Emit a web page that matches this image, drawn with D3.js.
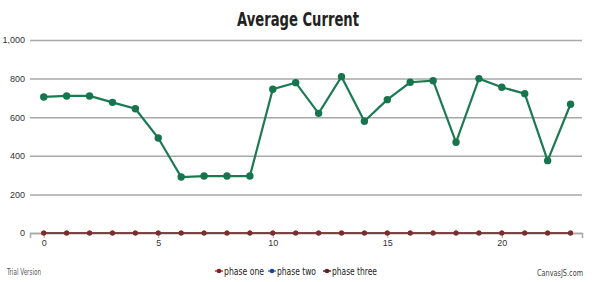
<!DOCTYPE html>
<html>
<head>
<meta charset="utf-8">
<script src="https://cdn.jsdelivr.net/npm/d3@7"></script>
<style>
  body { margin: 0; background: #fff; }
  svg { display: block; font-family: "Liberation Sans Narrow", "DejaVu Sans Condensed", "Liberation Sans", sans-serif; }
</style>
</head>
<body>
<svg width="612" height="282"></svg>
<script>
const hours = d3.range(0, 24);
const phaseOne = [0,0,0,0,0,0,0,0,0,0,0,0,0,0,0,0,0,0,0,0,0,0,0,0];
const phaseTwo = [705,710,710,677,644,492,290,295,295,295,745,779,620,810,579,691,781,789,470,800,755,722,375,667];
const phaseThree = [0,0,0,0,0,0,0,0,0,0,0,0,0,0,0,0,0,0,0,0,0,0,0,0];
const yTicks = [0, 200, 400, 600, 800, 1000];
const xTicks = [0, 5, 10, 15, 20];
const seriesNames = ["phase one", "phase two", "phase three"];

const svg = d3.select("svg"),
    margin = {top: 40, right: 30, bottom: 49, left: 30},
    width = +svg.attr("width") - margin.left - margin.right,
    height = +svg.attr("height") - margin.top - margin.bottom,
    g = svg.append("g").attr("transform", "translate(" + margin.left + "," + margin.top + ")");

const xScale = d3.scaleLinear().domain([-0.6, 23.5]).range([0, width]),
    yScale = d3.scaleLinear().domain([0, 1000]).range([height, 0]);

// title
svg.append("text")
    .attr("x", 298).attr("y", 26)
    .attr("text-anchor", "middle")
    .attr("font-size", 19).attr("font-weight", "bold")
    .attr("fill", "#222")
    .attr("textLength", 122).attr("lengthAdjust", "spacingAndGlyphs")
    .text("Average Current");

// gridlines + y labels
g.append("g")
    .call(d3.axisLeft(yScale).tickValues(yTicks).tickSize(-width).tickPadding(5)
      .tickFormat(d3.format(",")))
    .call(a => a.select(".domain").remove())
    .call(a => a.selectAll("line").attr("stroke", "#a8a8a8").attr("stroke-width", 1.5))
    .call(a => a.selectAll("text").attr("font-size", 9).attr("fill", "#333"));

// x axis
g.append("g")
    .attr("transform", "translate(0," + height + ")")
    .call(d3.axisBottom(xScale).tickValues(xTicks).tickSize(5).tickPadding(2))
    .call(a => a.select(".domain").attr("stroke", "#a8a8a8").attr("stroke-width", 1.5))
    .call(a => a.selectAll("line").attr("stroke", "#a8a8a8"))
    .call(a => a.selectAll("text").attr("font-size", 9).attr("fill", "#333"));

const line = d3.line()
    .x((d, i) => xScale(hours[i]))
    .y(d => yScale(d));

// zero series (phase one + three overlap)
[phaseOne, phaseThree].forEach(function(s) {
  g.append("path")
      .attr("d", line(s))
      .attr("fill", "none")
      .attr("stroke", "#7a3b3b")
      .attr("stroke-width", 1.5);
  g.append("g").selectAll("circle")
    .data(s)
    .enter().append("circle")
      .attr("cx", (d, i) => xScale(hours[i]))
      .attr("cy", d => yScale(d))
      .attr("r", 2.5)
      .attr("fill", "#7a2e2e");
});

// main series
g.append("path")
    .attr("d", line(phaseTwo))
    .attr("fill", "none")
    .attr("stroke", "#1b7a52")
    .attr("stroke-width", 2.2);

g.append("g").selectAll("circle")
  .data(phaseTwo)
  .enter().append("circle")
    .attr("cx", (d, i) => xScale(hours[i]))
    .attr("cy", d => yScale(d))
    .attr("r", 3.7)
    .attr("fill", "#16754c");

// legend
const legendX = [219, 272, 327],
    legendW = [40, 39, 45],
    legendLine = ["#b33a3a", "#2a8a8a", "#3a2a2a"],
    legendDot = ["#8b1e1e", "#1f3f9f", "#6b1e1e"];
const legend = svg.append("g").selectAll("g")
  .data(seriesNames)
  .enter().append("g")
    .attr("transform", (d, i) => "translate(" + legendX[i] + ",271)");
legend.append("line")
    .attr("x1", -4).attr("x2", 4)
    .attr("stroke", (d, i) => legendLine[i]).attr("stroke-width", 1.5);
legend.append("circle")
    .attr("r", 2.3)
    .attr("fill", (d, i) => legendDot[i]);
legend.append("text")
    .attr("x", 5).attr("dy", "0.35em")
    .attr("font-size", 10).attr("fill", "#222")
    .attr("textLength", (d, i) => legendW[i]).attr("lengthAdjust", "spacingAndGlyphs")
    .text(d => d);

svg.append("text")
    .attr("x", 7).attr("y", 275)
    .attr("font-size", 8).attr("fill", "#555")
    .attr("textLength", 34).attr("lengthAdjust", "spacingAndGlyphs")
    .text("Trial Version");

svg.append("text")
    .attr("x", 583).attr("y", 276)
    .attr("text-anchor", "end")
    .attr("font-size", 9).attr("fill", "#444")
    .attr("textLength", 46).attr("lengthAdjust", "spacingAndGlyphs")
    .text("CanvasJS.com");
</script>
</body>
</html>
